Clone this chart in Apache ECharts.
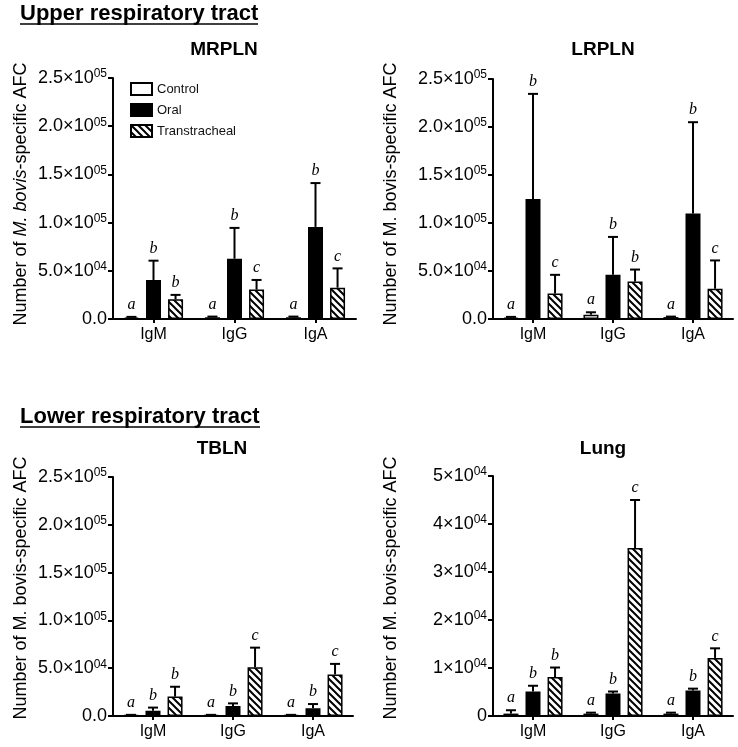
<!DOCTYPE html>
<html><head><meta charset="utf-8">
<script src="https://cdn.jsdelivr.net/npm/echarts@6/dist/echarts.min.js"></script>
<style>html,body{margin:0;padding:0;background:#fff}#c{width:738px;height:747px}</style>
</head><body><div id="c"></div>
<script>
// ---------- DATA ----------
const categories = ['IgM', 'IgG', 'IgA'];
const groupNames = ['Control', 'Oral', 'Transtracheal'];

// MRPLN (means and upper error-bar ends)
const mrplnControl = [1500, 1800, 1800];
const mrplnControlErr = [2200, 2500, 2500];
const mrplnOral = [40500, 62500, 95500];
const mrplnOralErr = [60500, 94500, 141000];
const mrplnTrans = [20500, 30500, 32500];
const mrplnTransErr = [25000, 40500, 52500];
const mrplnLetters = [['a','a','a'], ['b','b','b'], ['b','c','c']];

// LRPLN
const lrplnControl = [1500, 4500, 2000];
const lrplnControlErr = [2200, 7000, 2500];
const lrplnOral = [125000, 46000, 110000];
const lrplnOralErr = [234500, 85500, 205000];
const lrplnTrans = [26500, 39000, 31500];
const lrplnTransErr = [46000, 51500, 61000];
const lrplnLetters = [['a','a','a'], ['b','b','b'], ['c','b','c']];

// TBLN
const tblnControl = [800, 800, 800];
const tblnControlErr = [1200, 1200, 1200];
const tblnOral = [5500, 10500, 8000];
const tblnOralErr = [8800, 13200, 12500];
const tblnTrans = [20300, 51000, 43500];
const tblnTransErr = [30600, 71500, 54500];
const tblnLetters = [['a','a','a'], ['b','b','b'], ['b','c','c']];

// Lung
const lungControl = [500, 500, 500];
const lungControlErr = [1200, 700, 700];
const lungOral = [5100, 4700, 5300];
const lungOralErr = [6300, 5100, 5700];
const lungTrans = [8100, 35000, 12100];
const lungTransErr = [10100, 45000, 14100];
const lungLetters = [['a','a','a'], ['b','b','b'], ['b','c','c']];

// Tick labels
const upperTickMantissa = ['0.0', '5.0', '1.0', '1.5', '2.0', '2.5'];
const upperTickExp = ['', '04', '05', '05', '05', '05'];
const lungTickMantissa = ['0', '1', '2', '3', '4', '5'];
const lungTickExp = ['', '04', '04', '04', '04', '04'];

// ---------- STYLE ----------
const FONT = '"Liberation Sans", Arial, Helvetica, sans-serif';
const SERIF = '"Liberation Serif", "Times New Roman", serif';
const BAR_W = 15;
const BAR_GAP = 0.47;
const STEP = BAR_W * (1 + BAR_GAP);

function hatchCanvas() {
  const s = 7;
  const c = document.createElement('canvas');
  c.width = s; c.height = s;
  const g = c.getContext('2d');
  g.fillStyle = '#fff'; g.fillRect(0, 0, s, s);
  g.strokeStyle = '#000'; g.lineWidth = 2;
  g.beginPath();
  g.moveTo(-1, -1); g.lineTo(s + 1, s + 1);
  g.moveTo(-s / 2 - 1, s / 2 - 1); g.lineTo(s / 2 + 1, s * 1.5 + 1);
  g.moveTo(s / 2 - 1, -s / 2 - 1); g.lineTo(s * 1.5 + 1, s / 2 + 1);
  g.stroke();
  return c;
}
const hatch = { image: hatchCanvas(), repeat: 'repeat' };

const groupStyles = [
  { color: '#fff', borderColor: '#000', borderWidth: 1.5 },
  { color: '#000', borderColor: '#000', borderWidth: 1.5 },
  { color: hatch, borderColor: '#000', borderWidth: 1.5 }
];

const panels = [
  { means: [mrplnControl, mrplnOral, mrplnTrans], errs: [mrplnControlErr, mrplnOralErr, mrplnTransErr], letters: mrplnLetters, max: 250000, interval: 50000, mant: upperTickMantissa, exp: upperTickExp,
    grid: { left: 113, top: 78, width: 243, height: 241 } },
  { means: [lrplnControl, lrplnOral, lrplnTrans], errs: [lrplnControlErr, lrplnOralErr, lrplnTransErr], letters: lrplnLetters, max: 250000, interval: 50000, mant: upperTickMantissa, exp: upperTickExp,
    grid: { left: 493, top: 79, width: 240, height: 240 } },
  { means: [tblnControl, tblnOral, tblnTrans], errs: [tblnControlErr, tblnOralErr, tblnTransErr], letters: tblnLetters, max: 250000, interval: 50000, mant: upperTickMantissa, exp: upperTickExp,
    grid: { left: 113, top: 477, width: 240, height: 239 } },
  { means: [lungControl, lungOral, lungTrans], errs: [lungControlErr, lungOralErr, lungTransErr], letters: lungLetters, max: 50000, interval: 10000, mant: lungTickMantissa, exp: lungTickExp,
    grid: { left: 493, top: 476, width: 240, height: 240 } }
];

const grids = [], xAxes = [], yAxes = [], series = [];
panels.forEach((p, pi) => {
  grids.push(Object.assign({ containLabel: false }, p.grid));
  xAxes.push({
    type: 'category', gridIndex: pi, data: categories,
    axisLine: { lineStyle: { color: '#000', width: 2 } },
    axisTick: { show: true, alignWithLabel: true, length: 4, lineStyle: { color: '#000', width: 2 } },
    axisLabel: { color: '#000', fontSize: 16, fontFamily: FONT, margin: 8 },
    splitLine: { show: false }
  });
  yAxes.push({
    type: 'value', gridIndex: pi, min: 0, max: p.max, interval: p.interval,
    axisLine: { show: true, lineStyle: { color: '#000', width: 2 } },
    axisTick: { show: true, length: 5, lineStyle: { color: '#000', width: 2 } },
    splitLine: { show: false },
    axisLabel: {
      margin: 6, color: '#000',
      formatter: (v) => {
        const i = Math.round(v / p.interval);
        return p.exp[i] ? '{m|' + p.mant[i] + '×10}{s|' + p.exp[i] + '}' : '{m|' + p.mant[i] + '}';
      },
      rich: {
        m: { fontSize: 18, fontFamily: FONT, color: '#000', padding: [1, 0, 1, 0] },
        s: { fontSize: 12, fontFamily: FONT, color: '#000', verticalAlign: 'top' }
      }
    }
  });
  p.means.forEach((vals, gi) => {
    series.push({
      type: 'bar', name: groupNames[gi], xAxisIndex: pi, yAxisIndex: pi,
      data: vals, barWidth: BAR_W, barGap: (BAR_GAP * 100) + '%',
      itemStyle: groupStyles[gi], emphasis: { disabled: true }, z: 2
    });
  });
  p.means.forEach((vals, gi) => {
    const errs = p.errs[gi];
    const letters = p.letters[gi];
    const offset = (gi - 1) * STEP;
    series.push({
      type: 'custom', name: groupNames[gi] + ' error', xAxisIndex: pi, yAxisIndex: pi,
      data: categories.map((c, i) => [i, errs[i]]),
      encode: { x: 0, y: 1 }, z: 5, silent: true,
      renderItem: (params, api) => {
        const i = api.value(0);
        const top = api.coord([i, api.value(1)]);
        const base = api.coord([i, vals[i]]);
        const x = top[0] + offset;
        const capHalf = 5;
        return {
          type: 'group', children: [
            { type: 'line', shape: { x1: x, y1: base[1], x2: x, y2: top[1] }, style: { stroke: '#000', lineWidth: 2 } },
            { type: 'line', shape: { x1: x - capHalf, y1: top[1], x2: x + capHalf, y2: top[1] }, style: { stroke: '#000', lineWidth: 2 } },
            { type: 'text', x: x, y: top[1] - 4, style: { text: letters[i], font: 'italic 16px ' + SERIF, fill: '#000', align: 'center', verticalAlign: 'bottom', textAlign: 'center', textVerticalAlign: 'bottom' } }
          ]
        };
      }
    });
  });
});

function txt(x, y, text, font, align, extra) {
  return Object.assign({ type: 'text', x: x, y: y, style: { text: text, font: font, fill: '#000', align: align, verticalAlign: 'middle', textAlign: align, textVerticalAlign: 'middle' } }, extra || {});
}
const yTitle = 'Number of M. bovis-specific AFC';
const graphics = [
  txt(20, 14, 'Upper respiratory tract', 'bold 22px ' + FONT, 'left'),
  { type: 'line', shape: { x1: 20, y1: 24, x2: 258, y2: 24 }, style: { stroke: '#000', lineWidth: 1.5 } },
  txt(20, 417, 'Lower respiratory tract', 'bold 22px ' + FONT, 'left'),
  { type: 'line', shape: { x1: 20, y1: 427, x2: 260, y2: 427 }, style: { stroke: '#000', lineWidth: 1.5 } },
  txt(224, 50, 'MRPLN', 'bold 19px ' + FONT, 'center'),
  txt(603, 50, 'LRPLN', 'bold 19px ' + FONT, 'center'),
  txt(222, 449, 'TBLN', 'bold 19px ' + FONT, 'center'),
  txt(603, 449, 'Lung', 'bold 19px ' + FONT, 'center'),
  { type: 'text', x: 21, y: 194, rotation: Math.PI / 2,
    style: { text: '{n|Number of }{i|M. bovis}{n|-specific AFC}', align: 'center', verticalAlign: 'middle', textAlign: 'center', textVerticalAlign: 'middle',
      rich: { n: { fontSize: 18, fontFamily: FONT, fill: '#000', color: '#000' }, i: { fontSize: 18, fontFamily: FONT, fontStyle: 'italic', fill: '#000', color: '#000' } } } },
  txt(391, 194, yTitle, '18px ' + FONT, 'center', { rotation: Math.PI / 2 }),
  txt(21, 588, yTitle, '18px ' + FONT, 'center', { rotation: Math.PI / 2 }),
  txt(391, 588, yTitle, '18px ' + FONT, 'center', { rotation: Math.PI / 2 })
];

const chart = echarts.init(document.getElementById('c'), null, { renderer: 'canvas' });
chart.setOption({
  animation: false,
  backgroundColor: '#fff',
  legend: {
    data: groupNames, orient: 'vertical', left: 130, top: 82, padding: 0,
    itemWidth: 21, itemHeight: 12, itemGap: 7, icon: 'rect', selectedMode: false,
    textStyle: { fontSize: 13, fontFamily: FONT, color: '#111' }
  },
  grid: grids, xAxis: xAxes, yAxis: yAxes, series: series, graphic: graphics
});
</script></body></html>
